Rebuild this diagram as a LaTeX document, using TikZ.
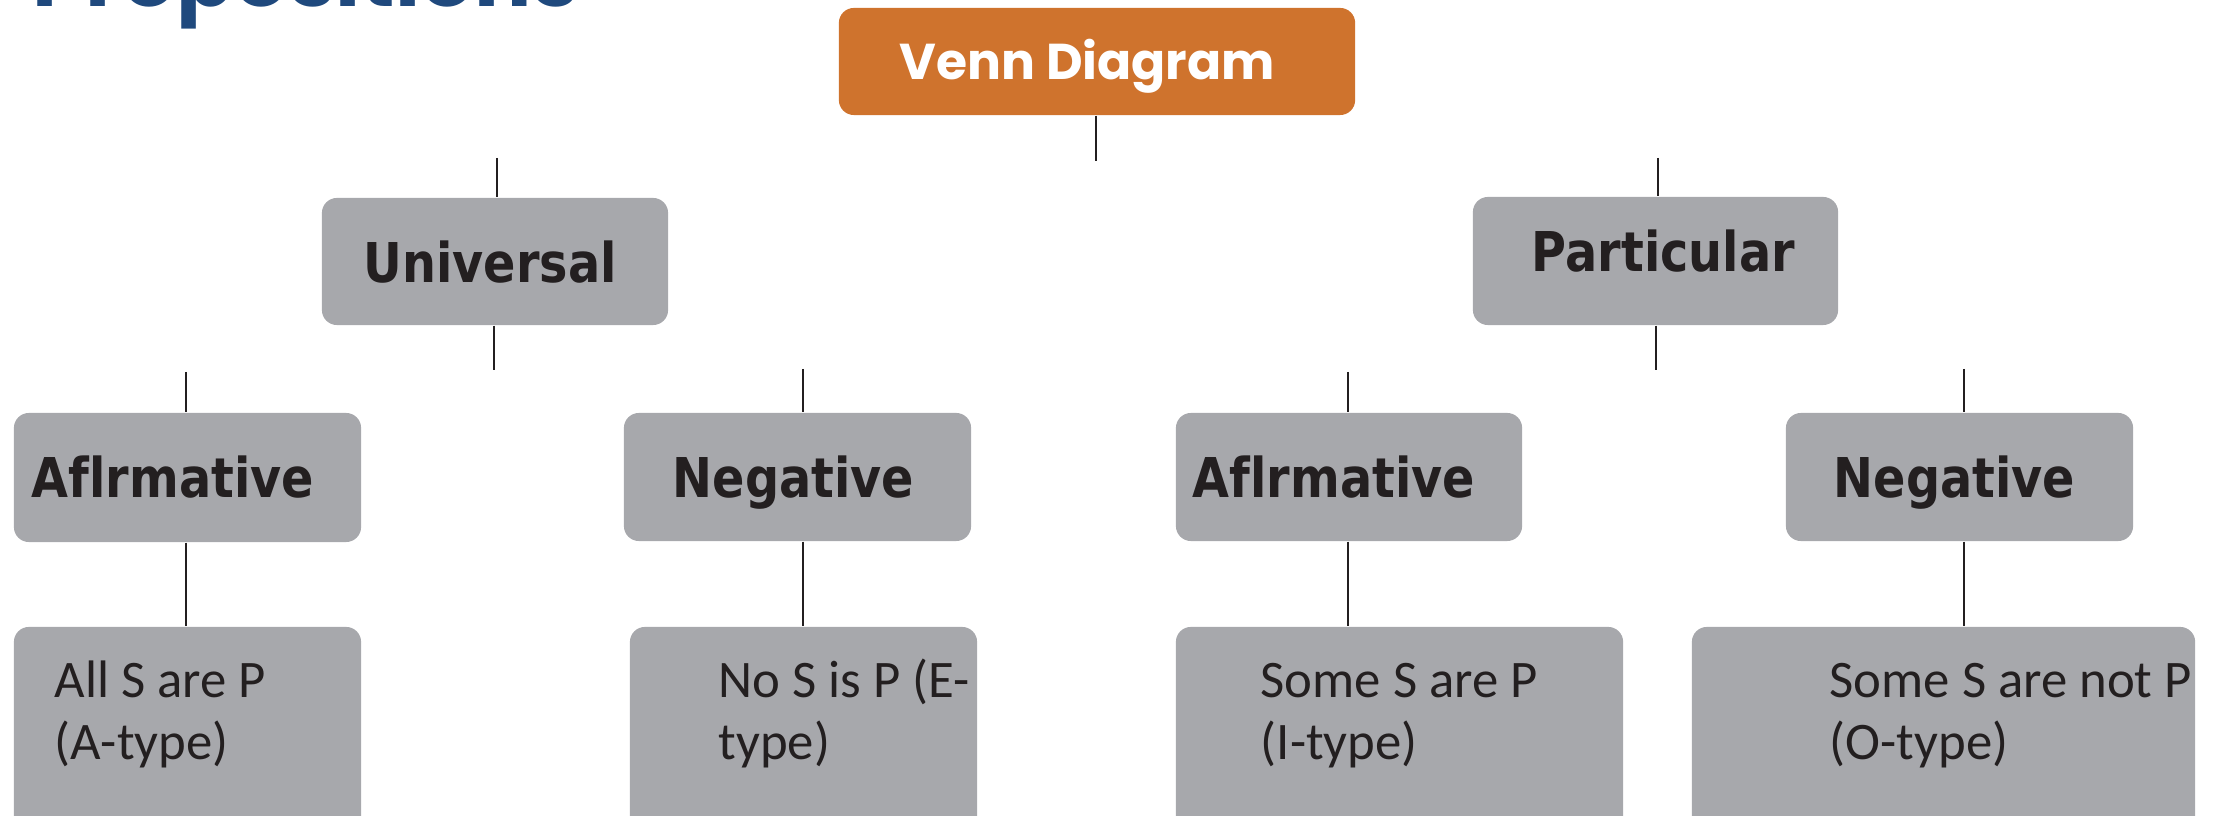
\documentclass[tikz,border=0pt]{standalone}
\usepackage{fontspec}
\setmainfont{Carlito}
\newfontfamily\labfont{DejaVu Sans}[FakeStretch=0.87]
\newfontfamily\geofont{Poppins}
\definecolor{boxgrey}{RGB}{167,168,172}
\definecolor{vennorange}{RGB}{207,115,45}
\definecolor{titleblue}{RGB}{31,73,125}
\definecolor{inkdark}{RGB}{35,31,32}
\begin{document}
\begin{tikzpicture}[x=0.01cm,y=-0.01cm,
  greybox/.style={fill=boxgrey, draw=none, rounded corners=0.15cm, inner sep=0pt},
  labtext/.style={anchor=base west, inner sep=0pt, text=inkdark, font=\labfont\bfseries\fontsize{15.6}{18}\selectfont},
  bodytext/.style={anchor=base west, inner sep=0pt, text=inkdark, font=\fontsize{15}{17.9}\selectfont},
  stub/.style={draw=inkdark, line width=0.45pt}]
\useasboundingbox (0,0) rectangle (2222,816);

% title (mostly cut off at the top)
\node[anchor=base west, inner sep=0pt, text=titleblue] (title) at (32,7) {\resizebox{5.46cm}{!}{\geofont\bfseries Propositions}};

% root
\node[greybox, fill=vennorange, minimum width=5.16cm, minimum height=1.07cm] (venn) at (1097,61.5) {};
\node[anchor=base west, inner sep=0pt, text=white] (venntext) at (899,80) {\resizebox{3.75cm}{!}{\geofont\bfseries Venn Diagram}};

% level 1
\node[greybox, minimum width=3.46cm, minimum height=1.27cm] (univ) at (495,261.5) {};
\node[labtext] (univtext) at (363,283) {Universal};
\node[greybox, minimum width=3.65cm, minimum height=1.28cm] (part) at (1655.5,261) {};
\node[labtext] (parttext) at (1531,272) {Particular};

% level 2
\node[greybox, minimum width=3.47cm, minimum height=1.29cm] (aff1) at (187.5,477.5) {};
\node[labtext] (aff1text) at (31,498) {Af\kern0ptlrmative};
\node[greybox, minimum width=3.47cm, minimum height=1.28cm] (neg1) at (797.5,477) {};
\node[labtext] (neg1text) at (672,498) {Negative};
\node[greybox, minimum width=3.46cm, minimum height=1.28cm] (aff2) at (1349,477) {};
\node[labtext] (aff2text) at (1192,498) {Af\kern0ptlrmative};
\node[greybox, minimum width=3.47cm, minimum height=1.28cm] (neg2) at (1959.5,477) {};
\node[labtext] (neg2text) at (1833,498) {Negative};

% level 3
\node[greybox, minimum width=3.47cm, minimum height=2.18cm] (b1) at (187.5,736) {};
\node[bodytext] (b1text) at (54,697) {\begin{tabular}[t]{@{}l@{}}All S are P\\(A-type)\end{tabular}};
\node[greybox, minimum width=3.47cm, minimum height=2.18cm] (b2) at (803.5,736) {};
\node[bodytext] (b2text) at (718,697) {\begin{tabular}[t]{@{}l@{}}No S is P (E-\\type)\end{tabular}};
\node[greybox, minimum width=4.47cm, minimum height=2.18cm] (b3) at (1399.5,736) {};
\node[bodytext] (b3text) at (1260,697) {\begin{tabular}[t]{@{}l@{}}Some S are P\\(I-type)\end{tabular}};
\node[greybox, minimum width=5.03cm, minimum height=2.18cm] (b4) at (1943.5,736) {};
\node[bodytext] (b4text) at (1829,697) {\begin{tabular}[t]{@{}l@{}}Some S are not P\\(O-type)\end{tabular}};

% connector stubs
\coordinate (vennend) at (1096,161);
\coordinate (univtop) at (497,158);
\coordinate (parttop) at (1658,158);
\coordinate (univend) at (494,370);
\coordinate (partend) at (1656,370);
\coordinate (aff1top) at (186,372);
\coordinate (neg1top) at (803,369);
\coordinate (aff2top) at (1348,372);
\coordinate (neg2top) at (1964,369);

\draw[stub] (venn.south -| vennend) -- (vennend);
\draw[stub] (univtop) -- (univtop |- univ.north);
\draw[stub] (parttop) -- (parttop |- part.north);
\draw[stub] (univ.south -| univend) -- (univend);
\draw[stub] (part.south -| partend) -- (partend);
\draw[stub] (aff1top) -- (aff1top |- aff1.north);
\draw[stub] (neg1top) -- (neg1top |- neg1.north);
\draw[stub] (aff2top) -- (aff2top |- aff2.north);
\draw[stub] (neg2top) -- (neg2top |- neg2.north);
\draw[stub] (aff1.south -| aff1top) -- (aff1top |- b1.north);
\draw[stub] (neg1.south -| neg1top) -- (neg1top |- b2.north);
\draw[stub] (aff2.south -| aff2top) -- (aff2top |- b3.north);
\draw[stub] (neg2.south -| neg2top) -- (neg2top |- b4.north);
\end{tikzpicture}
\end{document}
